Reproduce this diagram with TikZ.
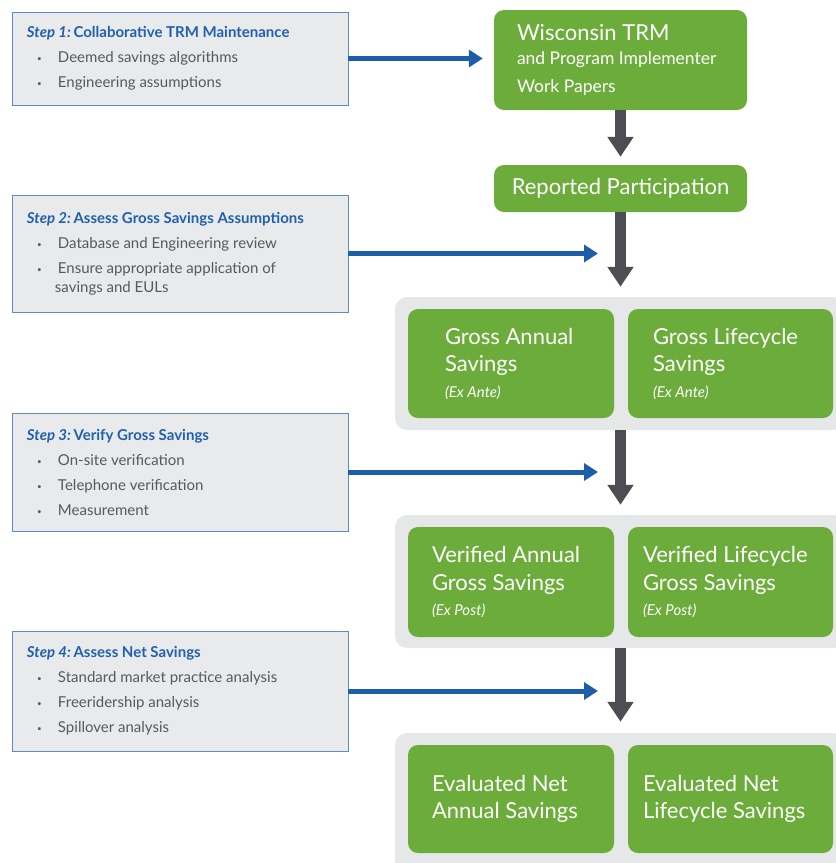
\documentclass[tikz,border=0pt]{standalone}
\usepackage{fontspec}
\setmainfont{Lato}
\usetikzlibrary{arrows.meta}

\definecolor{greenbox}{HTML}{6BAC3A}
\definecolor{panelgray}{HTML}{E6E7E8}
\definecolor{stepfill}{HTML}{E9EAEC}
\definecolor{stepline}{HTML}{5C8BC5}
\definecolor{flowblue}{HTML}{1C5EAA}
\definecolor{flowdark}{HTML}{4C4E53}
\definecolor{titleblue}{HTML}{2060AC}
\definecolor{bodygray}{HTML}{58595B}

\newcommand{\stepitem}[1]{\hspace*{10pt}\makebox[21pt][l]{\raisebox{1pt}{\fontsize{8}{8}\selectfont •}}#1}
\newcommand{\steptitle}[2]{{\color{titleblue}\bfseries\itshape #1}\,{\color{titleblue}\bfseries #2}}

\begin{document}
\begin{tikzpicture}
[
    x=1pt, y=-1pt,
    stepbox/.style={draw=stepline, line width=0.8pt, fill=stepfill, minimum width=336pt,
        text width=306pt, align=flush left, text=bodygray, inner sep=0pt,
        font=\fontsize{15}{25}\selectfont},
    greenbox/.style={fill=greenbox, rounded corners=10pt, text=white, align=flush left,
        inner sep=0pt, font=\fontsize{22}{27.5}\selectfont},
    panel/.style={fill=panelgray, rounded corners=12pt, minimum width=450pt, inner sep=0pt},
    bluearrow/.style={draw=flowblue, line width=5pt, -{Triangle[length=14pt, width=17pt]}},
    darkarrow/.style={draw=flowdark, line width=11pt, -{Triangle[length=20pt, width=25pt]}},
]
\useasboundingbox (0,0) rectangle (836,863);

\node [panel, minimum height=133pt] (p1) at (620,363.5) {};
\node [panel, minimum height=133pt] (p2) at (620,581.5) {};
\node [panel, minimum height=140pt] (p3) at (620,803) {};

\node [greenbox, minimum width=253pt, minimum height=100pt, text width=207pt] (wi) at (620.5,60)
{Wisconsin TRM\\[1pt]
{\fontsize{17.5}{23}\selectfont and Program Implementer\\ Work Papers}};
\node [greenbox, minimum width=253pt, minimum height=47pt] (rp) at (620.5,188.5)
{Reported Participation};

\node [greenbox, minimum width=206pt, minimum height=109pt, text width=132pt] (ga) at (511,363.5)
{Gross Annual\\ Savings\\[-2pt] {\fontsize{15}{17}\selectfont\itshape (Ex Ante)}};
\node [greenbox, minimum width=205pt, minimum height=109pt, text width=155pt] (gl) at (730.5,363.5)
{Gross Lifecycle\\ Savings\\[-2pt] {\fontsize{15}{17}\selectfont\itshape (Ex Ante)}};

\node [greenbox, minimum width=206pt, minimum height=110pt, text width=158pt] (va) at (511,582)
{Verified Annual\\ Gross Savings\\[-2pt] {\fontsize{15}{17}\selectfont\itshape (Ex Post)}};
\node [greenbox, minimum width=205pt, minimum height=110pt, text width=175pt] (vl) at (730.5,582)
{Verified Lifecycle\\ Gross Savings\\[-2pt] {\fontsize{15}{17}\selectfont\itshape (Ex Post)}};

\node [greenbox, minimum width=206pt, minimum height=108pt, text width=158pt] (ea) at (511,799)
{Evaluated Net\\ Annual Savings};
\node [greenbox, minimum width=205pt, minimum height=108pt, text width=175pt] (el) at (730.5,799)
{Evaluated Net\\ Lifecycle Savings};

\node [stepbox, minimum height=93pt] (s1) at (180,58.5)
{\steptitle{Step 1:}{Collaborative TRM Maintenance}\\
\stepitem{Deemed savings algorithms}\\
\stepitem{Engineering assumptions}};
\node [stepbox, minimum height=117pt] (s2) at (180,253.5)
{\steptitle{Step 2:}{Assess Gross Savings Assumptions}\\
\stepitem{Database and Engineering review}\\
\stepitem{Ensure appropriate application of}\\[-6pt]
\hspace*{28pt}savings and EULs};
\node [stepbox, minimum height=118pt] (s3) at (180,472)
{\steptitle{Step 3:}{Verify Gross Savings}\\
\stepitem{On-site verification}\\
\stepitem{Telephone verification}\\
\stepitem{Measurement}};
\node [stepbox, minimum height=120pt] (s4) at (180,691)
{\steptitle{Step 4:}{Assess Net Savings}\\
\stepitem{Standard market practice analysis}\\
\stepitem{Freeridership analysis}\\
\stepitem{Spillover analysis}};

\coordinate (in2) at (598,253.5);
\coordinate (in3) at (598,472);
\coordinate (in4) at (598,691);

\draw [bluearrow, shorten >=11pt] (s1.east) -- (s1.east -| wi.west);
\draw [bluearrow] (s2.east) -- (in2);
\draw [bluearrow] (s3.east) -- (in3);
\draw [bluearrow] (s4.east) -- (in4);

\draw [darkarrow, shorten >=8pt] (wi.south) -- (rp.north);
\draw [darkarrow, shorten >=10pt] (rp.south) -- (rp.south |- p1.north);
\draw [darkarrow, shorten >=10pt] (p1.south -| rp.south) -- (p2.north -| rp.south);
\draw [darkarrow, shorten >=11pt] (p2.south -| rp.south) -- (p3.north -| rp.south);
\end{tikzpicture}
\end{document}
